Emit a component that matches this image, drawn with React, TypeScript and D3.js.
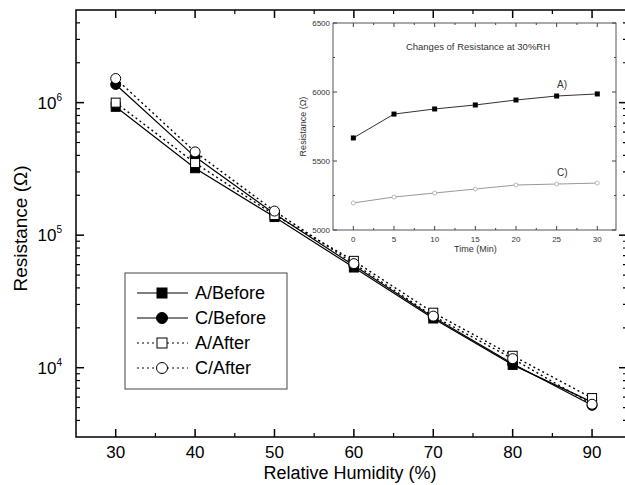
import React from "react";
import * as d3 from "d3";

const humidity = [30, 40, 50, 60, 70, 80, 90];
const aBefore = [9.3e5, 3.2e5, 1.37e5, 5.7e4, 2.35e4, 1.05e4, 5.5e3];
const cBefore = [1.37e6, 3.9e5, 1.45e5, 5.9e4, 2.4e4, 1.07e4, 5.2e3];
const aAfter = [1.0e6, 3.5e5, 1.42e5, 6.4e4, 2.6e4, 1.23e4, 5.9e3];
const cAfter = [1.52e6, 4.25e5, 1.52e5, 6.1e4, 2.45e4, 1.17e4, 5.3e3];
const seriesNames = ["A/Before", "C/Before", "A/After", "C/After"];
const xTicks = [30, 40, 50, 60, 70, 80, 90];
const yMajor = [1e4, 1e5, 1e6];
const yMajorExp = ["4", "5", "6"];

const insetTime = [0, 5, 10, 15, 20, 25, 30];
const insetA = [5667, 5840, 5877, 5906, 5942, 5971, 5986];
const insetC = [5196, 5239, 5268, 5297, 5326, 5333, 5340];
const insetYTicks = [5000, 5500, 6000, 6500];
const insetXTicks = [0, 5, 10, 15, 20, 25, 30];

const FONT = "Liberation Sans, Arial, sans-serif";

export default function App() {
  const W = 625, H = 485;
  const L = 76, R = 627, T = 10, B = 437;
  const x = d3.scaleLinear().domain([25, 94.4]).range([L, R]);
  const y = d3.scaleLog().domain([3e3, 5e6]).range([B, T]);

  const minorY: number[] = [];
  for (let e = 3; e <= 6; e++) {
    for (let m = 2; m <= 9; m++) {
      const v = m * Math.pow(10, e);
      if (v > 3e3 && v < 5e6) minorY.push(v);
    }
  }
  const minorX = [35, 45, 55, 65, 75, 85];

  const series = [
    { name: seriesNames[0], data: aBefore, dash: "none", marker: "square", fill: "#000" },
    { name: seriesNames[1], data: cBefore, dash: "none", marker: "circle", fill: "#000" },
    { name: seriesNames[2], data: aAfter, dash: "2,3", marker: "square", fill: "#fff" },
    { name: seriesNames[3], data: cAfter, dash: "2,3", marker: "circle", fill: "#fff" },
  ];

  const line = (data: number[]) =>
    d3.line<number>().x((_, i) => x(humidity[i])).y((d) => y(d))(data) || "";

  const marker = (kind: string, cx: number, cy: number, fill: string, key: string, s = 9) =>
    kind === "square" ? (
      <rect key={key} x={cx - s / 2} y={cy - s / 2} width={s} height={s} fill={fill} stroke="#000" strokeWidth={1} />
    ) : (
      <circle key={key} cx={cx} cy={cy} r={s / 2 + 0.5} fill={fill} stroke="#000" strokeWidth={1} />
    );

  // inset
  const iL = 333, iR = 616, iT = 23, iB = 230;
  const ix = d3.scaleLinear().domain([-2.5, 32.3]).range([iL, iR]);
  const iy = d3.scaleLinear().domain([5000, 6500]).range([iB, iT]);
  const iMinorY = [5250, 5750, 6250];
  const iMinorX = [2.5, 7.5, 12.5, 17.5, 22.5, 27.5];
  const iline = (data: number[]) =>
    d3.line<number>().x((_, i) => ix(insetTime[i])).y((d) => iy(d))(data) || "";

  // legend
  const lgX = 125, lgY = 273, lgW = 162, lgH = 116;
  const lgRows = [293, 318, 343, 368];

  return (
    <svg width={W} height={H} style={{ display: "block", position: "absolute", left: 0, top: 0 }}>
      <rect x={0} y={0} width={W} height={H} fill="#fff" />
      {/* main frame */}
      <rect x={L} y={T} width={R - L} height={B - T} fill="none" stroke="#000" strokeWidth={1.5} />
      {/* x ticks */}
      {xTicks.map((t) => (
        <g key={"xt" + t}>
          <line x1={x(t)} x2={x(t)} y1={B} y2={B - 8} stroke="#000" strokeWidth={1.5} />
          <line x1={x(t)} x2={x(t)} y1={T} y2={T + 8} stroke="#000" strokeWidth={1.5} />
          <text x={x(t)} y={458} textAnchor="middle" fontFamily={FONT} fontSize={17}>{t}</text>
        </g>
      ))}
      {minorX.map((t) => (
        <g key={"xm" + t}>
          <line x1={x(t)} x2={x(t)} y1={B} y2={B - 4} stroke="#000" strokeWidth={1.2} />
          <line x1={x(t)} x2={x(t)} y1={T} y2={T + 4} stroke="#000" strokeWidth={1.2} />
        </g>
      ))}
      {/* y ticks */}
      {yMajor.map((t, i) => (
        <g key={"yt" + t}>
          <line x1={L} x2={L + 8} y1={y(t)} y2={y(t)} stroke="#000" strokeWidth={1.5} />
          <line x1={R} x2={R - 8} y1={y(t)} y2={y(t)} stroke="#000" strokeWidth={1.5} />
          <text x={62} y={y(t) + 6} textAnchor="end" fontFamily={FONT} fontSize={17}>
            10<tspan dy={-8} fontSize={10}>{yMajorExp[i]}</tspan>
          </text>
        </g>
      ))}
      {minorY.map((t) => (
        <g key={"ym" + t}>
          <line x1={L} x2={L + 4} y1={y(t)} y2={y(t)} stroke="#000" strokeWidth={1.2} />
          <line x1={R} x2={R - 4} y1={y(t)} y2={y(t)} stroke="#000" strokeWidth={1.2} />
        </g>
      ))}
      {/* axis labels */}
      <text x={350} y={479} textAnchor="middle" fontFamily={FONT} fontSize={18}>Relative Humidity (%)</text>
      <text transform={`translate(27,${(T + B) / 2 + 5}) rotate(-90)`} textAnchor="middle" fontFamily={FONT} fontSize={19}>
        Resistance (Ω)
      </text>

      {/* series */}
      {series.map((s) => (
        <path key={"l" + s.name} d={line(s.data)} fill="none" stroke="#000" strokeWidth={s.dash === "none" ? 1.2 : 1.4} strokeDasharray={s.dash} />
      ))}
      {series.map((s) => (
        <g key={"m" + s.name}>
          {s.data.map((v, i) => marker(s.marker, x(humidity[i]), y(v), s.fill, s.name + i))}
        </g>
      ))}

      {/* legend */}
      <rect x={lgX} y={lgY} width={lgW} height={lgH} fill="#fff" stroke="#444" strokeWidth={1} />
      {series.map((s, i) => (
        <g key={"lg" + s.name}>
          <line x1={137} x2={188} y1={lgRows[i]} y2={lgRows[i]} stroke="#000" strokeWidth={1.2} strokeDasharray={s.dash} />
          {marker(s.marker, 162, lgRows[i], s.fill, "lgm" + i, 10)}
          <text x={195} y={lgRows[i] + 6} fontFamily={FONT} fontSize={18}>{s.name}</text>
        </g>
      ))}

      {/* inset */}
      <rect x={iL} y={iT} width={iR - iL} height={iB - iT} fill="#fff" stroke="#555" strokeWidth={1} />
      {insetYTicks.map((t) => (
        <g key={"iyt" + t}>
          <line x1={iL} x2={iL + 4} y1={iy(t)} y2={iy(t)} stroke="#444" />
          <line x1={iR} x2={iR - 4} y1={iy(t)} y2={iy(t)} stroke="#444" />
          <text x={iL - 3} y={iy(t) + 3} textAnchor="end" fontFamily={FONT} fontSize={8} fill="#333">{t}</text>
        </g>
      ))}
      {iMinorY.map((t) => (
        <g key={"iym" + t}>
          <line x1={iL} x2={iL + 2} y1={iy(t)} y2={iy(t)} stroke="#444" />
          <line x1={iR} x2={iR - 2} y1={iy(t)} y2={iy(t)} stroke="#444" />
        </g>
      ))}
      {insetXTicks.map((t) => (
        <g key={"ixt" + t}>
          <line x1={ix(t)} x2={ix(t)} y1={iB} y2={iB - 4} stroke="#444" />
          <line x1={ix(t)} x2={ix(t)} y1={iT} y2={iT + 4} stroke="#444" />
          <text x={ix(t)} y={iB + 12} textAnchor="middle" fontFamily={FONT} fontSize={8} fill="#333">{t}</text>
        </g>
      ))}
      {iMinorX.map((t) => (
        <g key={"ixm" + t}>
          <line x1={ix(t)} x2={ix(t)} y1={iB} y2={iB - 2} stroke="#444" />
          <line x1={ix(t)} x2={ix(t)} y1={iT} y2={iT + 2} stroke="#444" />
        </g>
      ))}
      <text x={ix(15)} y={iB + 22} textAnchor="middle" fontFamily={FONT} fontSize={9} fill="#333">Time (Min)</text>
      <text transform={`translate(306,${(iT + iB) / 2}) rotate(-90)`} textAnchor="middle" fontFamily={FONT} fontSize={9} fill="#333">
        Resistance (Ω)
      </text>
      <text x={478} y={50} textAnchor="middle" fontFamily={FONT} fontSize={9.5} fill="#333">Changes of Resistance at 30%RH</text>
      <text x={557} y={88} fontFamily={FONT} fontSize={10} fill="#333">A)</text>
      <text x={557} y={176} fontFamily={FONT} fontSize={10} fill="#333">C)</text>
      <path d={iline(insetA)} fill="none" stroke="#333" strokeWidth={1} />
      <path d={iline(insetC)} fill="none" stroke="#999" strokeWidth={1} />
      {insetA.map((v, i) => (
        <rect key={"ia" + i} x={ix(insetTime[i]) - 2.5} y={iy(v) - 2.5} width={5} height={5} fill="#000" />
      ))}
      {insetC.map((v, i) => (
        <circle key={"ic" + i} cx={ix(insetTime[i])} cy={iy(v)} r={2} fill="#fff" stroke="#aaa" strokeWidth={0.8} />
      ))}
    </svg>
  );
}
